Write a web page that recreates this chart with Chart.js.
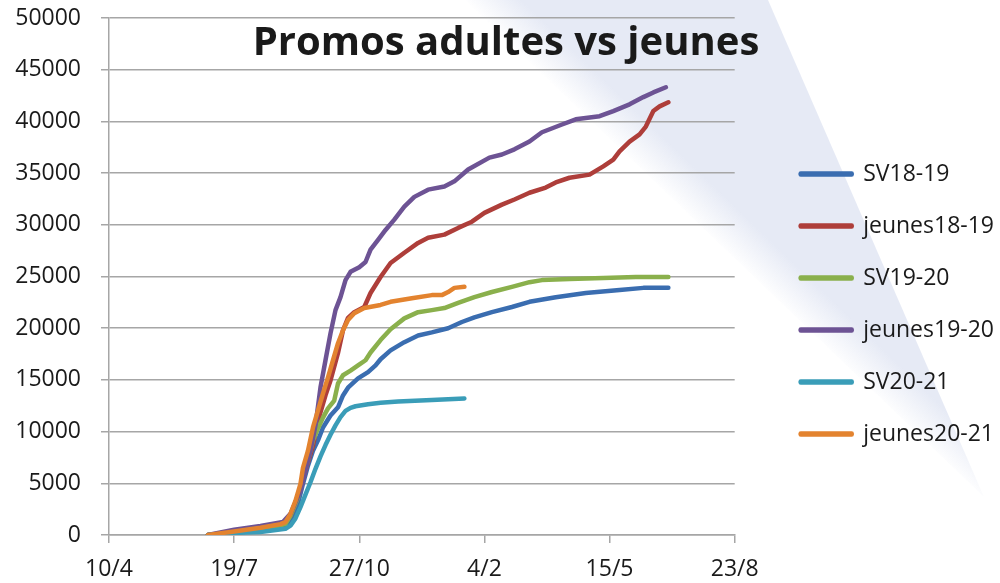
<!DOCTYPE html>
<html>
<head>
<meta charset="utf-8">
<script src="https://cdn.jsdelivr.net/npm/chart.js@4"></script>
<style>
  html, body { margin: 0; padding: 0; background: #fff; overflow: hidden; }
  #wrap { position: relative; width: 1000px; height: 583px; }
</style>
</head>
<body>
<div id="wrap"><canvas id="chart"></canvas></div>
<script>
// ------------------------
// DATA (x = days after 10/4)
// ------------------------
const chartTitle = "Promos adultes vs jeunes";
const tickLabels = ['10/4', '19/7', '27/10', '4/2', '15/5', '23/8'];
const seriesNames = ['SV18-19', 'jeunes18-19', 'SV19-20', 'jeunes19-20', 'SV20-21', 'jeunes20-21'];
const seriesColors = ['#3A6DB0', '#AE3E3A', '#8AB04C', '#6D5394', '#3A9DB8', '#E3832F'];

const sv1819Days = [79,100,121,141,145,151,155,159,163,167,171,177,183,187,191,199,207,213,217,225,236,247,258,271,282,292,306,322,336,357,381,408,427,447];
const sv1819 = [0,250,400,800,1350,3000,4950,6700,8150,9150,10400,11550,12350,13500,14250,15150,15750,16400,17000,17850,18650,19300,19600,20000,20600,21050,21550,22050,22550,23000,23400,23700,23900,23900];

const jeunes1819Days = [79,100,121,139,145,151,157,163,167,173,177,183,187,191,196,204,209,217,225,236,247,255,268,279,290,300,314,324,336,349,357,368,384,395,403,408,416,424,429,435,440,447];
const jeunes1819 = [0,300,600,1050,1850,3800,6200,8650,11050,13500,14950,17600,19800,21000,21550,22050,23400,24950,26300,27300,28250,28750,29050,29700,30300,31150,31950,32450,33100,33600,34100,34550,34850,35650,36300,37100,38050,38750,39500,41000,41450,41850];

const sv1920Days = [79,100,121,141,145,151,155,159,163,167,171,175,180,183,187,193,199,205,209,217,225,236,247,258,268,279,292,306,322,336,346,368,395,421,447];
const sv1920 = [0,250,500,1050,1850,3600,5550,7200,9150,10300,11350,12250,13000,14650,15450,15900,16400,16900,17650,18850,19900,20950,21550,21750,21950,22450,23000,23500,24000,24450,24650,24750,24850,24950,24950];

const jeunes1920Days = [79,100,121,139,145,153,161,165,169,173,177,181,185,189,193,200,205,209,215,221,228,236,244,255,268,276,287,304,314,324,336,346,362,373,392,403,416,427,435,445];
const jeunes1920 = [0,500,870,1260,2050,4270,8150,10600,14270,16900,19500,21750,23000,24650,25450,25900,26400,27600,28550,29500,30500,31750,32700,33400,33700,34200,35350,36500,36800,37300,38050,38950,39700,40200,40500,41000,41650,42350,42800,43300];

const sv2021Days = [79,100,121,141,145,149,153,157,161,165,169,173,177,181,185,189,193,197,207,217,231,258,284];
const sv2021 = [0,200,300,600,900,1600,2700,3900,5100,6400,7600,8700,9700,10600,11400,12000,12300,12450,12650,12800,12900,13050,13200];

const jeunes2021Days = [79,97,121,137,141,145,149,153,155,159,163,167,171,175,179,183,187,191,196,204,217,225,242,258,266,271,276,284];
const jeunes2021 = [0,300,700,1050,1250,2050,3300,4950,6500,8150,10400,12050,13700,15250,16900,18550,19800,20800,21450,21950,22250,22550,22900,23200,23200,23500,23900,24000];

const allDays = [sv1819Days, jeunes1819Days, sv1920Days, jeunes1920Days, sv2021Days, jeunes2021Days];
const allValues = [sv1819, jeunes1819, sv1920, jeunes1920, sv2021, jeunes2021];

// ------------------------
// PLUGINS
// ------------------------
const backdrop = {
  id: 'backdrop',
  beforeDraw(chart) {
    const ctx = chart.ctx;
    ctx.save();
    const g = ctx.createLinearGradient(720, 248, 748, 219);
    g.addColorStop(0, 'rgba(230,234,245,0)');
    g.addColorStop(1, 'rgba(230,234,245,1)');
    ctx.fillStyle = g;
    ctx.beginPath();
    ctx.moveTo(465, 0);
    ctx.lineTo(768, 0);
    ctx.lineTo(984, 497);
    ctx.closePath();
    ctx.fill();
    ctx.restore();
  }
};

const bigTitle = {
  id: 'bigTitle',
  afterDraw(chart) {
    const ctx = chart.ctx;
    ctx.save();
    ctx.font = 'bold 40px "Open Sans"';
    ctx.fillStyle = '#1a1a1a';
    ctx.textAlign = 'center';
    ctx.textBaseline = 'alphabetic';
    ctx.fillText(chartTitle, 506, 55);
    ctx.restore();
  }
};

// ------------------------
// CHART
// ------------------------
const datasets = seriesNames.map((name, i) => ({
  label: name,
  data: allDays[i].map((d, k) => ({ x: d, y: allValues[i][k] })),
  borderColor: seriesColors[i],
  backgroundColor: seriesColors[i],
  borderWidth: 4.5,
  borderCapStyle: 'round',
  borderJoinStyle: 'round',
  pointRadius: 0,
  tension: 0,
  order: seriesNames.length - i
}));

const gridColor = '#A6A6A6';

new Chart(document.getElementById('chart'), {
  type: 'line',
  data: { datasets },
  options: {
    responsive: true,
    maintainAspectRatio: false,
    animation: false,
    layout: { padding: { top: 18, bottom: -7, left: 0, right: -4 } },
    plugins: {
      title: { display: false },
      tooltip: { enabled: false },
      legend: {
        position: 'right',
        maxWidth: 300,
        labels: {
          boxWidth: 51,
          boxHeight: 1,
          padding: 29,
          color: '#1a1a1a',
          font: { family: 'Open Sans', size: 23 },
          sort: (a, b) => a.datasetIndex - b.datasetIndex
        }
      }
    },
    scales: {
      x: {
        type: 'linear',
        min: 0,
        max: 500,
        afterFit(s) { s.height = 55; },
        ticks: {
          stepSize: 100,
          padding: 13,
          color: '#1a1a1a',
          font: { family: 'Open Sans', size: 23 },
          maxRotation: 0,
          callback: v => tickLabels[Math.round(v / 100)]
        },
        grid: { drawOnChartArea: false, drawTicks: true, tickLength: 8, color: gridColor, lineWidth: 1.5 },
        border: { color: gridColor, width: 1.5 }
      },
      y: {
        min: 0,
        max: 50000,
        afterFit(s) { s.width = 109; s.paddingTop = 0; s.paddingBottom = 0; },
        ticks: {
          stepSize: 5000,
          padding: 20,
          color: '#1a1a1a',
          font: { family: 'Open Sans', size: 23 },
          callback: v => String(v)
        },
        grid: { color: gridColor, lineWidth: 1.5, tickLength: 8 },
        border: { color: gridColor, width: 1.5 }
      },
      pad: {
        position: 'right',
        grid: { display: false },
        border: { display: false },
        ticks: { display: false },
        afterFit(s) { s.width = 37; }
      }
    }
  },
  plugins: [backdrop, bigTitle]
});
</script>
</body>
</html>
